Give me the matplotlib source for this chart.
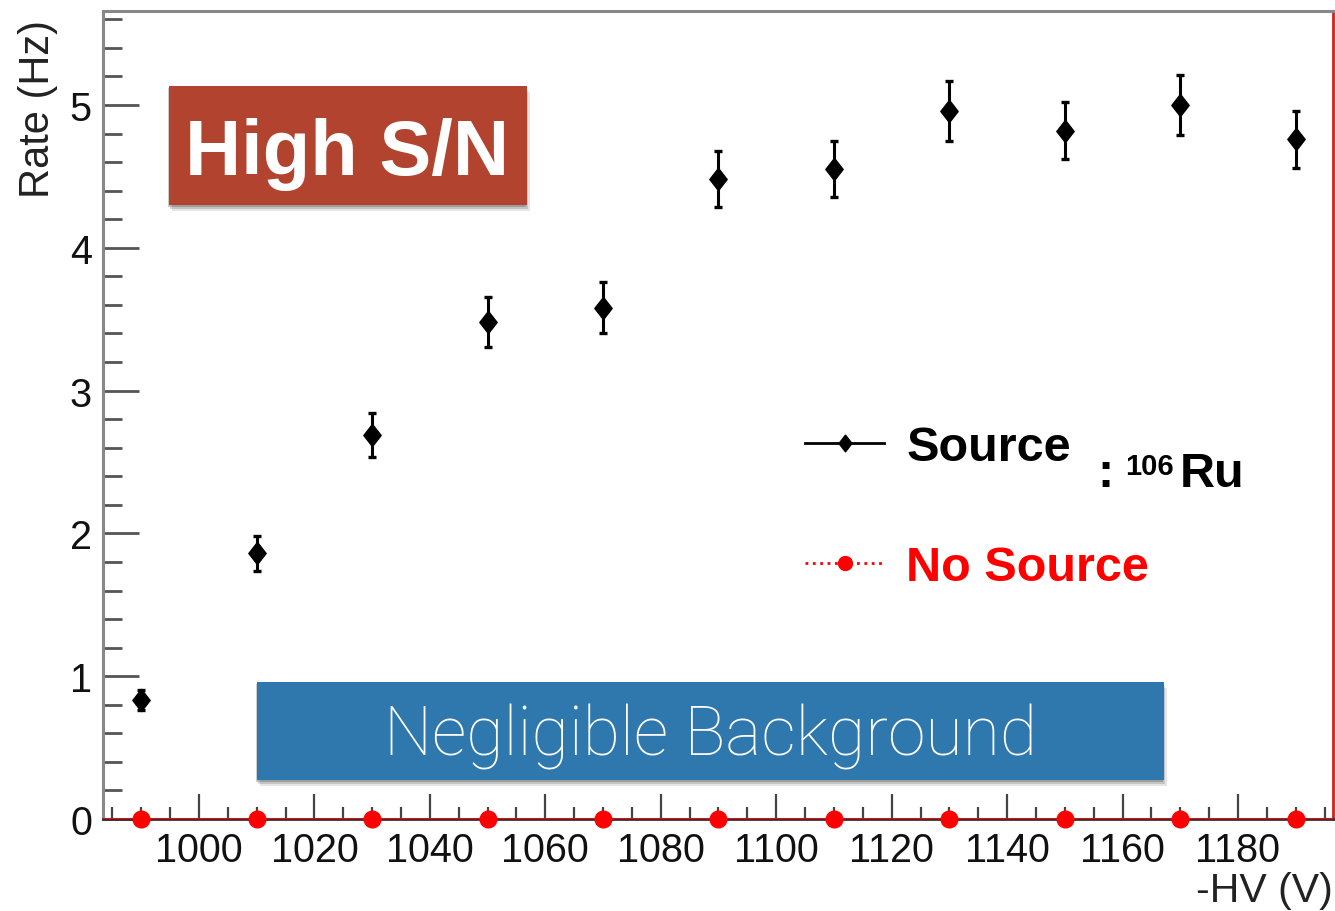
import matplotlib
matplotlib.use("Agg")
import matplotlib.pyplot as plt
from matplotlib.lines import Line2D
from matplotlib.patches import Rectangle
from matplotlib.path import Path
from matplotlib.ticker import FixedLocator, MultipleLocator

# ---------------- data ----------------
hv = [990, 1010, 1030, 1050, 1070, 1090, 1110, 1130, 1150, 1170, 1190]
rate_source = [0.83, 1.86, 2.69, 3.48, 3.58, 4.48, 4.55, 4.96, 4.82, 5.00, 4.76]
err_source = [0.07, 0.12, 0.155, 0.175, 0.18, 0.195, 0.195, 0.21, 0.20, 0.21, 0.20]
rate_nosource = [0.0, 0.0, 0.0, 0.0, 0.0, 0.0, 0.0, 0.0, 0.0, 0.0, 0.0]
hv_halfwidth = [10, 10, 10, 10, 10, 10, 10, 10, 10, 10, 10]
x_ticks = [1000, 1020, 1040, 1060, 1080, 1100, 1120, 1140, 1160, 1180]
y_ticks = [0, 1, 2, 3, 4, 5]
series_labels = ["Source", "No Source"]

plt.rcParams["font.family"] = ["Liberation Sans", "DejaVu Sans"]

W, H = 1335, 912
fig = plt.figure(figsize=(W / 100, H / 100), dpi=100)


def fx(px):
    return px / W


def fy(py):
    return 1 - py / H


ax = fig.add_axes([fx(103), fy(820), 1230 / W, 808 / H])
ax.set_xlim(983.37, 1196.46)
ax.set_ylim(0, 5.658)

# no-source: red points with +-10 V horizontal bars
ax.errorbar(hv, rate_nosource, xerr=hv_halfwidth, fmt="none", ecolor="red",
            elinewidth=2.2, capsize=0, zorder=4)
ax.plot(hv, rate_nosource, ls="none", marker="o", ms=12, color="red",
        clip_on=False, zorder=5)

# source: black diamonds with error bars
diamond = Path([(0, 1), (0.78, 0), (0, -1), (-0.78, 0), (0, 1)],
               [Path.MOVETO, Path.LINETO, Path.LINETO, Path.LINETO, Path.CLOSEPOLY])
ax.errorbar(hv, rate_source, yerr=err_source, fmt="none", ecolor="black",
            elinewidth=2.2, capsize=3, capthick=2.4, zorder=6)
ax.plot(hv, rate_source, ls="none", marker=diamond, ms=16, color="black", zorder=7)

# axes styling (ROOT-like)
ax.xaxis.set_major_locator(FixedLocator(x_ticks))
ax.xaxis.set_minor_locator(MultipleLocator(5))
ax.yaxis.set_major_locator(FixedLocator(y_ticks))
ax.yaxis.set_minor_locator(MultipleLocator(0.2))
ax.set_xticklabels([str(v) for v in x_ticks])
ax.set_yticklabels([str(v) for v in y_ticks])

ax.tick_params(axis="x", which="major", direction="in", length=18, width=1.6,
               color="#444444", labelsize=28.5, pad=9, labelcolor="#111111")
ax.tick_params(axis="x", which="minor", direction="in", length=9, width=1.6,
               color="#444444")
ax.tick_params(axis="y", which="major", direction="in", length=26, width=2.0,
               color="#555555", labelsize=28.5, pad=8, labelcolor="#111111")
ax.tick_params(axis="y", which="minor", direction="in", length=14, width=2.0,
               color="#555555")

ax.spines["left"].set_color("#888888")
ax.spines["left"].set_linewidth(2.2)
ax.spines["top"].set_color("#888888")
ax.spines["top"].set_linewidth(2.2)
ax.spines["bottom"].set_color("#333333")
ax.spines["bottom"].set_linewidth(2.0)
ax.spines["right"].set_color("#cc2222")
ax.spines["right"].set_linewidth(2.0)

ax.set_ylabel("Rate (Hz)", fontsize=30, color="#222222", loc="top")
ax.yaxis.set_label_coords(-0.0366, 0.99)
ax.set_xlabel("-HV (V)", fontsize=29.5, color="#222222", loc="right")
ax.xaxis.set_label_coords(0.9995, -0.064)

# legend
handles = [
    Line2D([], [], color="black", lw=2, marker=diamond, ms=12),
    Line2D([], [], color="red", lw=2, ls=":", marker="o", ms=10),
]
leg = ax.legend(handles, series_labels, loc="upper left",
                bbox_to_anchor=(fx(805), fy(426)), bbox_transform=fig.transFigure,
                frameon=False, prop={"size": 35, "weight": "bold"},
                labelcolor=["black", "red"], handlelength=1.63,
                handletextpad=0.45, labelspacing=1.55, borderpad=0,
                borderaxespad=0)

fig.text(fx(1097), fy(487), ":", fontsize=35, fontweight="bold", color="black",
         ha="left", va="baseline")
fig.text(fx(1125), fy(475), "106", fontsize=21, fontweight="bold", color="black",
         ha="left", va="baseline")
fig.text(fx(1180), fy(487), "Ru", fontsize=35, fontweight="bold", color="black",
         ha="left", va="baseline")


# annotation boxes with soft shadow
def box(x0, y0, x1, y1, color):
    for i, a in enumerate([0.10, 0.14, 0.20]):
        off = 6 - 2 * i
        fig.patches.append(Rectangle((fx(x0 + off - 3), fy(y1 + off)),
                                     (x1 - x0) / W, (y1 - y0) / H,
                                     transform=fig.transFigure, color="#000000",
                                     alpha=a, lw=0, zorder=8))
    fig.patches.append(Rectangle((fx(x0), fy(y1)), (x1 - x0) / W, (y1 - y0) / H,
                                 transform=fig.transFigure, color=color, lw=0,
                                 zorder=9))


box(169, 87, 527, 206, "#b1432f")
fig.text(fx(347), fy(175), "High S/N", fontsize=56, fontweight="bold",
         color="white", ha="center", va="baseline", zorder=10)

box(257, 683, 1164, 781, "#2e78ad")
fig.text(fx(711), fy(756), "Negligible Background", fontsize=49,
         family="Roboto", fontweight="light", color="white", ha="center",
         va="baseline", zorder=10)

fig.savefig("out.png", dpi=100)
